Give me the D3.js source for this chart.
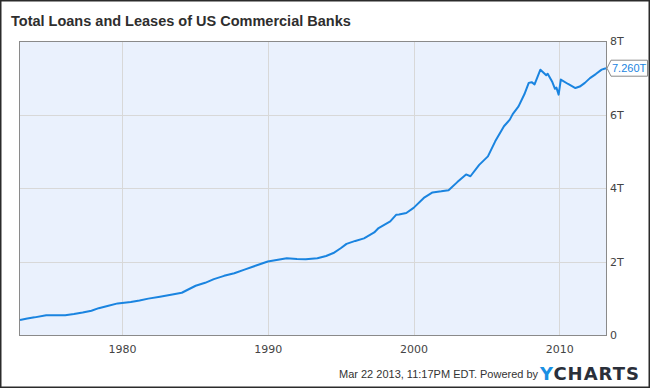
<!DOCTYPE html>
<html>
<head>
<meta charset="utf-8">
<script src="https://cdn.jsdelivr.net/npm/d3@7"></script>
<style>
body { margin: 0; background: #fff; }
svg { display: block; font-family: "Liberation Sans", Arial, sans-serif; }
.axis text { font-family: "DejaVu Sans", sans-serif; font-size: 11px; fill: #444; }
</style>
</head>
<body>
<svg id="chart" width="650" height="388"></svg>
<script>
// decimal years and loan totals (trillions USD)
var years = [1973.0, 1973.5, 1974.0, 1974.8, 1975.5, 1976.1, 1976.7, 1977.3, 1977.9, 1978.4, 1979.0, 1979.7,
    1980.6, 1981.2, 1981.8, 1982.6, 1983.45, 1984.1, 1985.05, 1985.7, 1986.3, 1987.0, 1987.7, 1988.4,
    1989.2, 1990.0, 1990.7, 1991.3, 1992.0, 1992.6, 1993.4, 1994.0, 1994.5, 1995.0, 1995.4, 1996.0,
    1996.6, 1997.3, 1997.6, 1998.4, 1998.8, 1999.0, 1999.5, 2000.0, 2000.7, 2001.3, 2001.9, 2002.4,
    2003.0, 2003.6, 2003.9, 2004.5, 2005.1, 2005.6, 2006.2, 2006.6, 2006.8, 2007.2, 2007.6, 2007.9,
    2008.1, 2008.3, 2008.7, 2009.1, 2009.2, 2009.5, 2009.7, 2009.8, 2009.95, 2010.1, 2010.6, 2011.1,
    2011.4, 2011.75, 2012.1, 2012.5, 2012.9, 2013.2];
var loans = [0.41, 0.45, 0.48, 0.54, 0.54, 0.54, 0.57, 0.61, 0.66, 0.73, 0.79, 0.86,
    0.90, 0.94, 0.99, 1.04, 1.10, 1.15, 1.34, 1.42, 1.52, 1.61, 1.68, 1.78,
    1.89, 2.00, 2.05, 2.09, 2.07, 2.06, 2.09, 2.15, 2.23, 2.36, 2.48, 2.56,
    2.63, 2.79, 2.91, 3.09, 3.27, 3.28, 3.32, 3.46, 3.73, 3.88, 3.91, 3.94,
    4.16, 4.37, 4.32, 4.63, 4.86, 5.27, 5.68, 5.86, 6.01, 6.22, 6.55, 6.86,
    6.88, 6.82, 7.22, 7.07, 7.11, 6.90, 6.70, 6.73, 6.54, 6.95, 6.83, 6.72,
    6.76, 6.86, 6.99, 7.10, 7.22, 7.26];
var xTicks = [1980, 1990, 2000, 2010];
var yTicks = [0, 2, 4, 6, 8];
var lastLabel = "7.260T";

var svg = d3.select("#chart");
var margin = { left: 20, right: 606, top: 41, bottom: 335 };

// outer frame
svg.append("rect")
    .attr("x", 0.5).attr("y", 0.5)
    .attr("width", 649).attr("height", 387)
    .attr("fill", "#fff")
    .attr("stroke", "#2b2b2b")
    .attr("stroke-width", 2);

svg.append("text")
    .attr("x", 11).attr("y", 26)
    .attr("font-size", "14.5px")
    .attr("font-weight", "bold")
    .attr("fill", "#2e2e2e")
    .text("Total Loans and Leases of US Commercial Banks");

var x = d3.scaleLinear()
    .domain([1973.0, 2013.2])
    .range([margin.left, margin.right]);
var y = d3.scaleLinear()
    .domain([0, 8])
    .range([margin.bottom, margin.top]);

svg.append("rect")
    .attr("x", margin.left).attr("y", margin.top)
    .attr("width", margin.right - margin.left)
    .attr("height", margin.bottom - margin.top)
    .attr("fill", "#eaf1fd");

// grid lines
svg.append("g").selectAll("line")
    .data(xTicks)
    .enter().append("line")
    .attr("x1", function(d) { return Math.round(x(d)) + 0.5; })
    .attr("x2", function(d) { return Math.round(x(d)) + 0.5; })
    .attr("y1", margin.top)
    .attr("y2", margin.bottom)
    .attr("stroke", "#d8d8d8");

svg.append("g").selectAll("line")
    .data(yTicks.slice(1, 4))
    .enter().append("line")
    .attr("x1", margin.left)
    .attr("x2", margin.right)
    .attr("y1", function(d) { return Math.round(y(d)) + 0.5; })
    .attr("y2", function(d) { return Math.round(y(d)) + 0.5; })
    .attr("stroke", "#d8d8d8");

// plot border
svg.append("rect")
    .attr("x", margin.left - 0.5).attr("y", margin.top + 0.5)
    .attr("width", margin.right - margin.left + 1)
    .attr("height", margin.bottom - margin.top)
    .attr("fill", "none")
    .attr("stroke", "#8a8a8a");

// axes
var xAxis = svg.append("g")
    .attr("class", "axis")
    .attr("transform", "translate(0," + margin.bottom + ")")
    .call(d3.axisBottom(x).tickValues(xTicks).tickFormat(d3.format("d")).tickSize(0).tickPadding(10));
xAxis.select(".domain").remove();

var yAxis = svg.append("g")
    .attr("class", "axis")
    .attr("transform", "translate(" + margin.right + ",0)")
    .call(d3.axisRight(y).tickValues(yTicks)
        .tickFormat(function(d) { return d === 0 ? "0" : d + "T"; })
        .tickSize(0).tickPadding(4));
yAxis.select(".domain").remove();

// line
var line = d3.line()
    .x(function(d, i) { return x(years[i]); })
    .y(function(d) { return y(d); });

svg.append("path")
    .datum(loans)
    .attr("d", line)
    .attr("fill", "none")
    .attr("stroke", "#1a84e0")
    .attr("stroke-width", 2)
    .attr("stroke-linejoin", "round");

// last value callout
var ly = y(loans[loans.length - 1]);
var lx = margin.right + 1;
svg.append("path")
    .attr("d", "M" + lx + "," + ly + " L" + (lx + 4) + "," + (ly - 8) + " H" + 647.5 + " V" + (ly + 8) + " H" + (lx + 4) + " Z")
    .attr("fill", "#fff")
    .attr("stroke", "#8a8a8a");
svg.append("text")
    .attr("x", lx + 5).attr("y", ly + 4)
    .attr("font-size", "11px")
    .attr("fill", "#1a84e0")
    .text(lastLabel);

// footer
svg.append("text")
    .attr("x", 339).attr("y", 378)
    .attr("font-size", "11px")
    .attr("fill", "#333")
    .text("Mar 22 2013, 11:17PM EDT.  Powered by");

var logo = svg.append("text")
    .attr("x", 540).attr("y", 380)
    .attr("font-family", "DejaVu Sans, sans-serif")
    .attr("font-size", "18px")
    .attr("font-weight", "bold")
    .attr("letter-spacing", "1px");
logo.append("tspan").attr("fill", "#1a8fe3").text("Y");
logo.append("tspan").attr("fill", "#2a2f3a").text("CHARTS");
</script>
</body>
</html>
